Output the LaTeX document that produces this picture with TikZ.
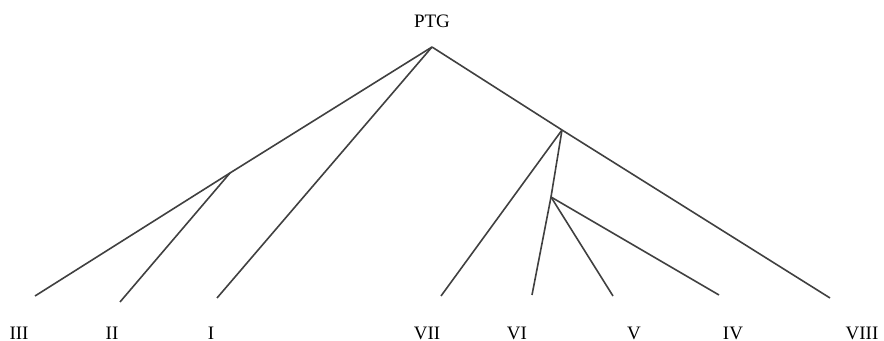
\documentclass[tikz,border=0pt]{standalone}
\usepackage{fontspec}
\setmainfont{Liberation Serif}
\usepackage{tikz}
\tikzset{font={\fontsize{9.5pt}{12}\selectfont}}
\tikzset{branch/.style={line width=0.8pt,draw=black!75}}

\begin{document}
\begin{tikzpicture}[x=0.5pt,y=-0.5pt]
\useasboundingbox (0,0) rectangle (884,341);

\node (ptg) at (432,21) {PTG};

%inner nodes
\coordinate (r) at (432,47);
\coordinate (a) at (230,173);
\coordinate (b) at (562,130);
\coordinate (c) at (551,197);

%leaves
\coordinate (l3) at (35,296);
\coordinate (l2) at (120,302);
\coordinate (l1) at (217,298);
\coordinate (l7) at (441,296);
\coordinate (l6) at (532,295);
\coordinate (l5) at (613,296);
\coordinate (l4) at (719,295);
\coordinate (l8) at (830,298);

\node (t3) at (19,333) {III};
\node (t2) at (112,333) {II};
\node (t1) at (211,333) {I};
\node (t7) at (427,333) {VII};
\node (t6) at (517,333) {VI};
\node (t5) at (634,333) {V};
\node (t4) at (733,333) {IV};
\node (t8) at (862,333) {VIII};

\draw[branch] (r) -- (a) -- (l3);
\draw[branch] (a) -- (l2);
\draw[branch] (r) -- (l1);
\draw[branch] (r) -- (b) -- (l8);
\draw[branch] (b) -- (l7);
\draw[branch] (b) -- (c) -- (l6);
\draw[branch] (c) -- (l5);
\draw[branch] (c) -- (l4);

\end{tikzpicture}
\end{document}
